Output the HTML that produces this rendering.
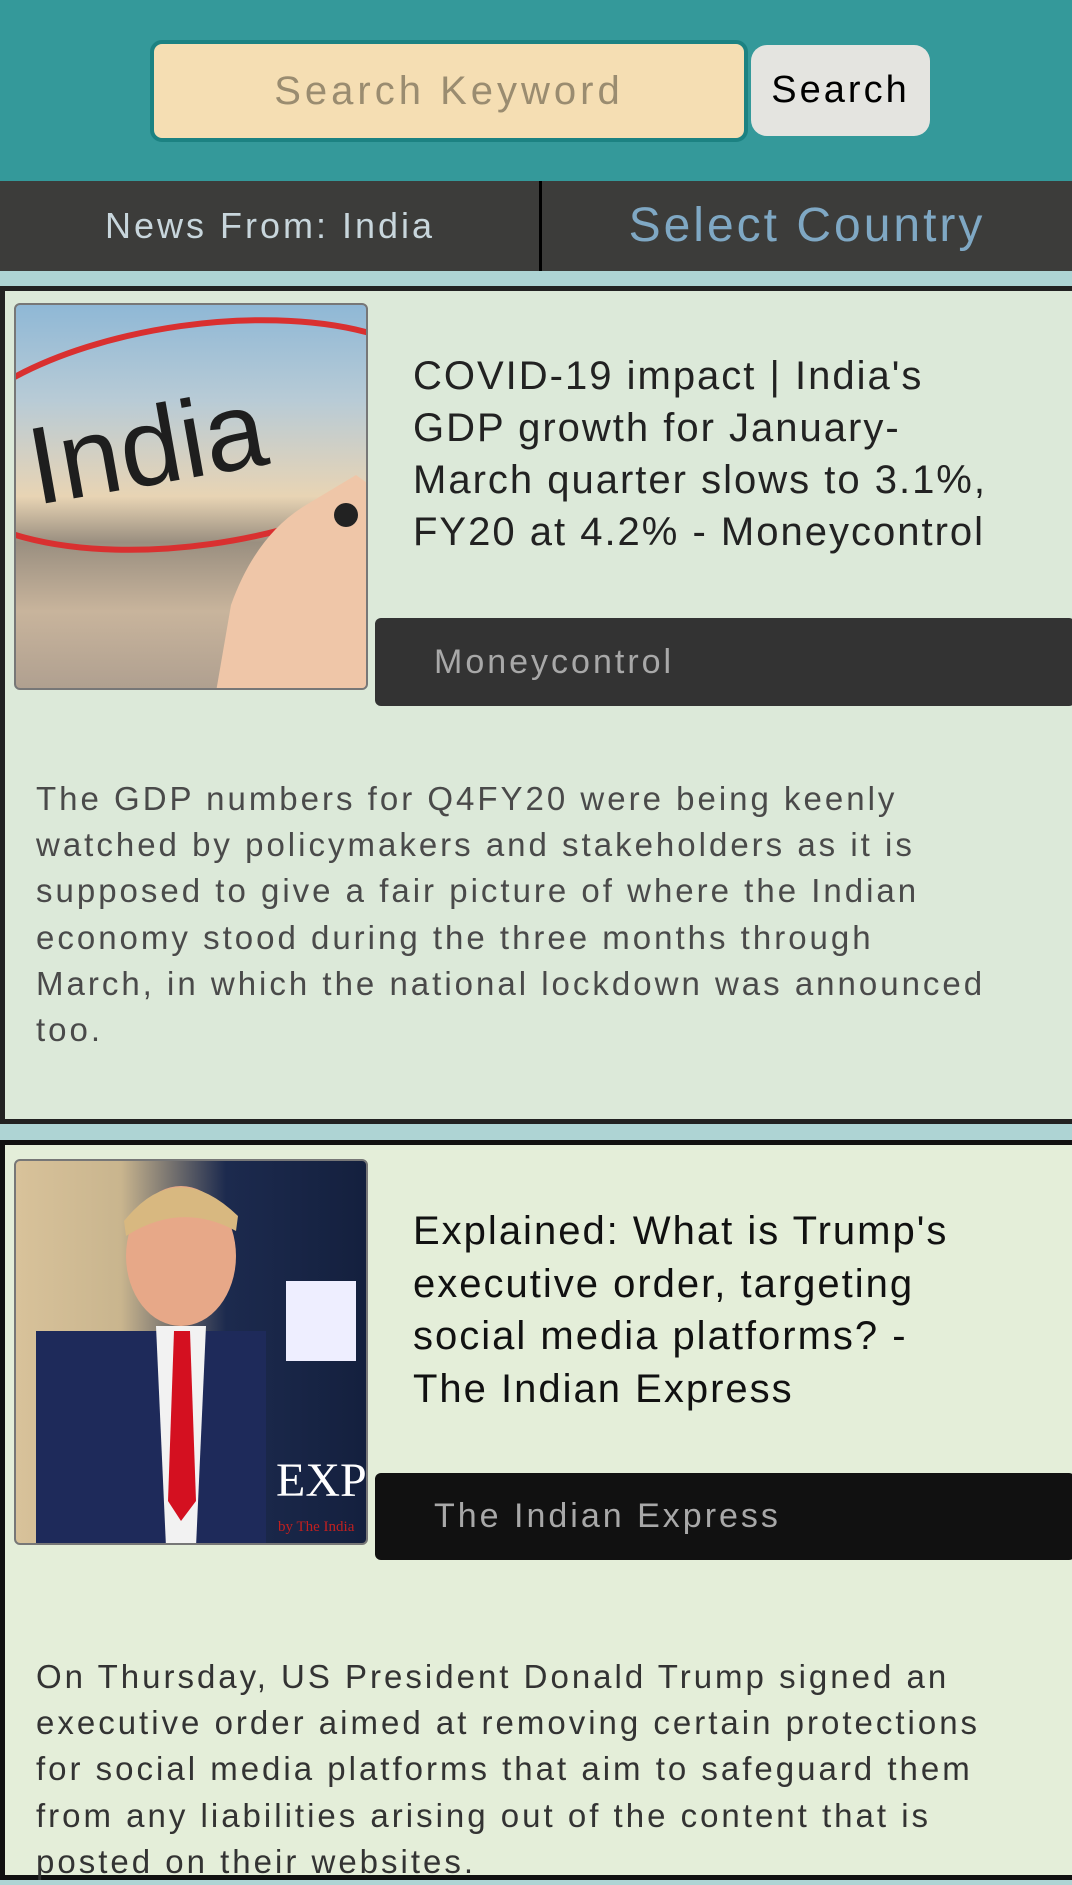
<!DOCTYPE html>
<html><head><meta charset="utf-8">
<style>
*{margin:0;padding:0;box-sizing:border-box}
body{width:1072px;height:1864px;overflow:hidden;background:#aed4d4;font-family:"Liberation Sans",sans-serif;position:relative}
.abs{position:absolute}
.t{white-space:nowrap}
</style></head><body>
<div class="abs" style="left:0;top:0;width:1072px;height:181px;background:#34999a"></div>
<div class="abs" style="left:150px;top:40px;width:598px;height:102px;background:#f5deb3;border:4px solid #1c8282;border-radius:12px;color:#9a8c70;font-size:40px;letter-spacing:4px;text-align:center;line-height:94px">Search Keyword</div>
<div class="abs" style="left:751px;top:45px;width:179px;height:91px;background:#e4e4e0;border-radius:16px;color:#000;font-size:38px;letter-spacing:3px;text-align:center;line-height:91px">Search</div>
<div class="abs" style="left:0;top:181px;width:1072px;height:90px;background:#3c3c3a"></div>
<div class="abs" style="left:0;top:181px;width:540px;height:90px;color:#c8d6dc;font-size:36px;letter-spacing:3px;text-align:center;line-height:90px">News From: India</div>
<div class="abs" style="left:539px;top:181px;width:3px;height:90px;background:#000"></div>
<div class="abs" style="left:542px;top:181px;width:530px;height:90px;color:#7fa8c4;font-size:48px;letter-spacing:3px;text-align:center;line-height:90px">Select Country</div>

<div class="abs" style="left:0;top:286px;width:1080px;height:838px;background:#dce9d9;border:5px solid #222"></div>
<div class="abs" style="left:14px;top:303px;width:354px;height:387px;border-radius:6px;overflow:hidden;border:2px solid #777;background:linear-gradient(180deg,#8fb8d6 0%,#b8cbd6 25%,#e8d4b4 50%,#9a8f80 62%,#c8b49c 80%,#b0a090 100%)">
<svg width="354" height="387" style="position:absolute;left:0;top:0">
<ellipse cx="180" cy="130" rx="260" ry="110" fill="none" stroke="#d93030" stroke-width="6" transform="rotate(-8 180 130)"/>
<text x="20" y="200" font-size="110" font-family="Liberation Sans" fill="#1e1e1e" transform="rotate(-10 20 200)">India</text>
<path d="M200 387 L215 300 Q240 230 290 200 L340 170 L354 180 L354 387Z" fill="#efc6a8"/>
<circle cx="330" cy="210" r="12" fill="#222"/>
</svg></div>
<div class="abs t" style="left:413px;top:350px;color:#222;font-size:40px;line-height:52px;letter-spacing:2px">COVID-19 impact | India's<br>GDP growth for January-<br>March quarter slows to 3.1%,<br>FY20 at 4.2% - Moneycontrol</div>
<div class="abs" style="left:375px;top:618px;width:700px;height:88px;background:#333;border-radius:6px"></div>
<div class="abs t" style="left:434px;top:618px;line-height:88px;color:#a8a8a8;font-size:34px;letter-spacing:3px">Moneycontrol</div>
<div class="abs t" style="left:36px;top:776px;color:#4a4a4a;font-size:33px;line-height:46.2px;letter-spacing:3px">The GDP numbers for Q4FY20 were being keenly<br>watched by policymakers and stakeholders as it is<br>supposed to give a fair picture of where the Indian<br>economy stood during the three months through<br>March, in which the national lockdown was announced<br>too.</div>

<div class="abs" style="left:0;top:1140px;width:1080px;height:740px;background:#e4eed9;border:5px solid #111"></div>
<div class="abs" style="left:14px;top:1159px;width:354px;height:386px;border-radius:6px;overflow:hidden;border:2px solid #777;background:linear-gradient(90deg,#d8c29a 0%,#c9b58e 30%,#1c2a4e 60%,#14203e 100%)">
<svg width="354" height="386" style="position:absolute;left:0;top:0">
<rect x="20" y="170" width="230" height="216" fill="#1e2a5a"/>
<ellipse cx="165" cy="95" rx="55" ry="70" fill="#e7a888"/>
<path d="M108 60 Q160 -5 222 55 L220 70 Q165 40 110 75Z" fill="#d8b880"/>
<path d="M140 165 L190 165 L180 386 L150 386Z" fill="#f2f2f2"/>
<path d="M158 170 L174 170 L180 340 L165 360 L152 340Z" fill="#d41020"/>
<rect x="270" y="120" width="70" height="80" fill="#eef"/>
<text x="260" y="335" font-size="48" font-family="Liberation Serif" fill="#fff">EXP</text>
<text x="262" y="370" font-size="15" font-family="Liberation Serif" fill="#c02020">by The India</text>
</svg></div>
<div class="abs t" style="left:413px;top:1205px;color:#111;font-size:40px;line-height:52.5px;letter-spacing:2px">Explained: What is Trump's<br>executive order, targeting<br>social media platforms? -<br>The Indian Express</div>
<div class="abs" style="left:375px;top:1473px;width:700px;height:87px;background:#111;border-radius:6px"></div>
<div class="abs t" style="left:434px;top:1473px;line-height:87px;color:#a8a8a8;font-size:34px;letter-spacing:3px">The Indian Express</div>
<div class="abs t" style="left:36px;top:1654px;color:#333;font-size:33px;line-height:46.2px;letter-spacing:3px">On Thursday, US President Donald Trump signed an<br>executive order aimed at removing certain protections<br>for social media platforms that aim to safeguard them<br>from any liabilities arising out of the content that is<br>posted on their websites.</div>
</body></html>
